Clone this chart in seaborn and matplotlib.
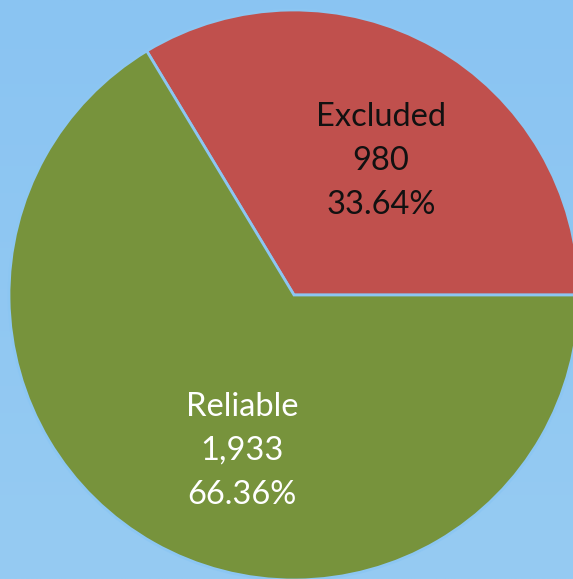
import numpy as np
import matplotlib
matplotlib.use("Agg")
import matplotlib.pyplot as plt
import seaborn as sns

categories = ["Excluded", "Reliable"]
counts = [980, 1933]
percent_labels = ["33.64%", "66.36%"]
count_labels = ["980", "1,933"]

slice_colors = ["#C0504D", "#77933C"]
text_colors = ["#111111", "#FFFFFF"]
sky_top = np.array([0x8A, 0xC4, 0xF2]) / 255
sky_bottom = np.array([0x96, 0xCB, 0xF3]) / 255

sns.set_theme(style="white")
plt.rcParams["font.family"] = ["Lato", "DejaVu Sans"]

W, H = 573, 579
fig = plt.figure(figsize=(W / 100, H / 100), dpi=100)
ax = fig.add_axes([0, 0, 1, 1])

# soft sky backdrop
t = np.linspace(0, 1, 256)[:, None]
grad = sky_top[None, :] * (1 - t[..., None]) + sky_bottom[None, :] * t[..., None]
grad = np.repeat(grad, 2, axis=1)
ax.imshow(grad, extent=(0, W, 0, H), origin="upper", aspect="auto", zorder=0)

center = (294, H - 295)
radius = 285
ax.pie(
    counts,
    colors=slice_colors,
    startangle=0,
    counterclock=True,
    radius=radius,
    center=center,
    wedgeprops=dict(edgecolor="#8CC6F2", linewidth=2.0),
    frame=True,
)
ax.set_xlim(0, W)
ax.set_ylim(0, H)
ax.set_aspect("equal")
ax.axis("off")

# label offsets from the pie centre (pixels)
label_offsets = [(87, 134), (-52, -156)]
for cat, cnt, pct, col, (dx, dy) in zip(categories, count_labels, percent_labels,
                                         text_colors, label_offsets):
    ax.text(center[0] + dx, center[1] + dy, f"{cat}\n{cnt}\n{pct}",
            ha="center", va="center", color=col, fontsize=23.5,
            linespacing=1.58, zorder=5)

fig.savefig("out.png", dpi=100)
